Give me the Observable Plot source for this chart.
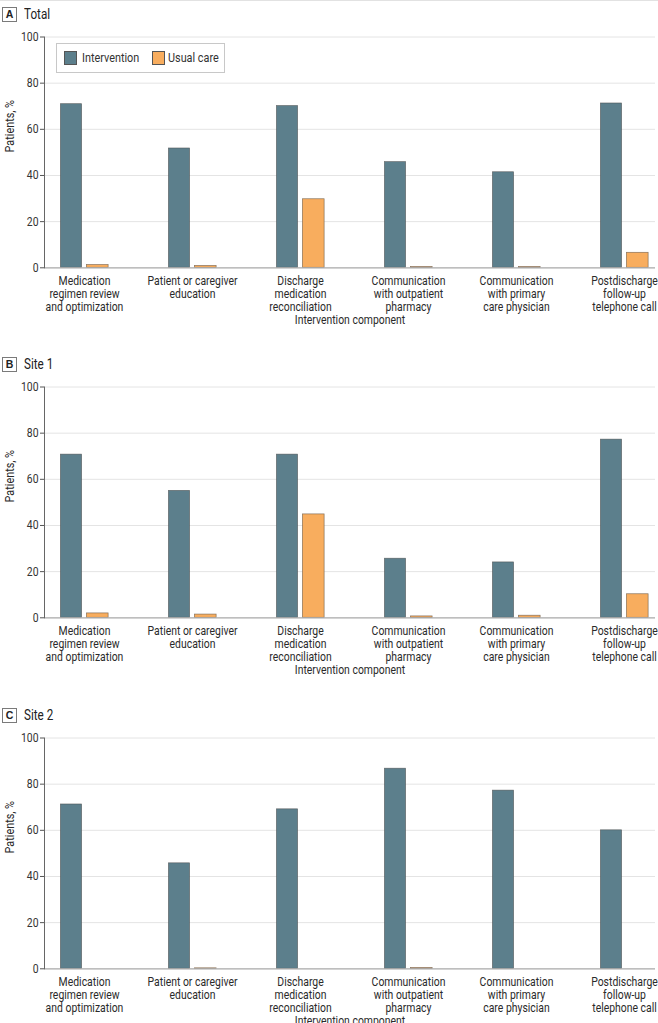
<!DOCTYPE html>
<html>
<head>
<meta charset="utf-8">
<script src="https://cdn.jsdelivr.net/npm/d3@7"></script>
<script src="https://cdn.jsdelivr.net/npm/@observablehq/plot@0.6"></script>
<style>
  html, body { margin: 0; padding: 0; background: #fff; }
  body { width: 658px; overflow: hidden; border-top: 1px solid #e2e2e2; box-sizing: border-box;
         font-family: Roboto, 'Noto Sans', sans-serif; color: #222; }
  .panel { position: relative; height: 350.4px; }
  .panel svg { position: absolute; left: 0; top: 0; }
  .hdr { position: absolute; left: 2px; top: 6px; height: 15px; z-index: 2; white-space: nowrap; }
  .box { position: absolute; left: 0; top: 0; width: 13px; height: 13px; border: 1px solid #7a7a7a; font-weight: bold;
         font-size: 10.5px; line-height: 13px; text-align: center; font-family: 'Liberation Sans', Arial, sans-serif; }
  .ttl { position: absolute; left: 22px; top: -1px; font-size: 14px; line-height: 16px; color: #222; transform-origin: 0 50%; }
  .legend { position: absolute; left: 56px; top: 42px; width: 167px; height: 28px; border: 1px solid #c8c8c8;
            background: #fff; z-index: 2; font-size: 13px; }
  .legend .sw { position: absolute; top: 7px; width: 13px; height: 14px; border: 1px solid #555; box-sizing: border-box; }
  .legend .lb { position: absolute; top: 6px; line-height: 16px; color: #333; white-space: nowrap; transform-origin: 0 50%; }
</style>
</head>
<body>
<div id="root"></div>
<script>
// ---- data ----
const categories = [
  "Medication regimen review and optimization",
  "Patient or caregiver education",
  "Discharge medication reconciliation",
  "Communication with outpatient pharmacy",
  "Communication with primary care physician",
  "Postdischarge follow-up telephone call"
];
const tickLabels = [
  "Medication\nregimen review\nand optimization",
  "Patient or caregiver\neducation",
  "Discharge\nmedication\nreconciliation",
  "Communication\nwith outpatient\npharmacy",
  "Communication\nwith primary\ncare physician",
  "Postdischarge\nfollow-up\ntelephone call"
];
const seriesNames = ["Intervention", "Usual care"];
const seriesColors = ["#5c7f8c", "#f8ad5e"];

const panelLetters = ["A", "B", "C"];
const panelTitles = ["Total", "Site 1", "Site 2"];

const totalIntervention = [70.9, 51.7, 70.1, 45.8, 41.4, 71.2];
const totalUsual        = [1.2, 0.8, 29.7, 0.3, 0.3, 6.5];
const site1Intervention = [70.7, 55.0, 70.7, 25.6, 24.0, 77.2];
const site1Usual        = [1.9, 1.4, 44.8, 0.6, 0.9, 10.2];
const site2Intervention = [71.2, 45.7, 69.1, 86.7, 77.2, 60.0];
const site2Usual        = [0, 0.2, 0, 0.3, 0, 0];

const yTicks = [0, 20, 40, 60, 80, 100];
const yLabel = "Patients, %";
const xLabel = "Intervention component";

const panelValues = [
  [totalIntervention, totalUsual],
  [site1Intervention, site1Usual],
  [site2Intervention, site2Usual]
];

// ---- styling helpers ----
const FONT = "Roboto, 'Noto Sans', sans-serif";
function measure(str, font) {
  const ctx = document.createElement("canvas").getContext("2d");
  ctx.font = font;
  return ctx.measureText(str).width;
}
// horizontal condensing factor so the text matches the narrow face of the original
const K = Math.min(1, 90 / measure("Patient or caregiver", "12.5px Roboto"));

function condense(svg) {
  svg.querySelectorAll("text").forEach(t => {
    const tr = t.getAttribute("transform");
    if (tr) {
      t.setAttribute("transform", tr + ` scale(${K},1)`);
    } else {
      const x = +(t.getAttribute("x") || 0), y = +(t.getAttribute("y") || 0);
      t.removeAttribute("x"); t.removeAttribute("y");
      t.setAttribute("transform", `translate(${x},${y}) scale(${K},1)`);
    }
  });
}

// ---- drawing ----
const W = 658, H = 350, mTop = 35.5, mBottom = 350 - 266.3, mLeft = 44, mRight = 3;
const step = 108.76, firstCenter = 82.35;
const xRange = [firstCenter - step / 2, firstCenter + step * 5.5];
const half = step / 2;

const root = document.getElementById("root");

panelValues.forEach((vals, p) => {
  const panel = document.createElement("div");
  panel.className = "panel";

  const rows = [];
  vals.forEach((arr, s) => arr.forEach((v, i) => rows.push({cat: categories[i], series: seriesNames[s], value: v})));
  const interv = rows.filter(d => d.series === seriesNames[0]);
  const usual = rows.filter(d => d.series === seriesNames[1]);

  const chart = Plot.plot({
    width: W, height: H,
    marginTop: mTop, marginBottom: mBottom, marginLeft: mLeft, marginRight: mRight,
    style: {fontFamily: FONT, fontSize: "13px", color: "#333", background: "transparent", overflow: "visible"},
    x: {type: "band", domain: categories, range: xRange, padding: 0, axis: null},
    y: {domain: [0, 100], axis: null},
    color: {domain: seriesNames, range: seriesColors},
    marks: [
      Plot.gridY(yTicks.filter(t => t > 0), {stroke: "#e4e4e4", strokeOpacity: 1, strokeWidth: 1}),
      Plot.barY(interv, {x: "cat", y: "value", fill: "series", stroke: "#4a4a4a", strokeWidth: 0.7, strokeOpacity: 0.7,
        insetLeft: half - 24, insetRight: half + 2}),
      Plot.barY(usual, {x: "cat", y: "value", fill: "series", stroke: "#6b5a48", strokeWidth: 0.7, strokeOpacity: 0.8,
        insetLeft: half + 2, insetRight: half - 24.5}),
      Plot.ruleY([0], {stroke: "#a8a8a8", strokeWidth: 1.2}),
      Plot.frame({anchor: "left", stroke: "#666", strokeWidth: 1}),
      Plot.axisY({ticks: yTicks, tickSize: 4, tickPadding: 2, label: null, fontSize: 12.5, stroke: "#555", color: "#333"}),
      Plot.text(categories, {x: d => d, text: (d, i) => tickLabels[i], frameAnchor: "bottom", dy: 8,
        lineAnchor: "top", lineHeight: 13 / 12.5, fontSize: 12.5, fill: "#2a2a2a"}),
      Plot.text([xLabel], {frameAnchor: "bottom", dy: 56, fontSize: 12.5, fill: "#2a2a2a"}),
      Plot.text([yLabel], {frameAnchor: "left", rotate: -90, dx: -34.5, fontSize: 13, fill: "#2a2a2a"})
    ]
  });
  condense(chart);
  panel.appendChild(chart);

  const hdr = document.createElement("div");
  hdr.className = "hdr";
  hdr.innerHTML = `<span class="box">${panelLetters[p]}</span><span class="ttl" style="transform:scaleX(${K})">${panelTitles[p]}</span>`;
  panel.appendChild(hdr);

  if (p === 0) {
    const lg = document.createElement("div");
    lg.className = "legend";
    lg.innerHTML =
      `<span class="sw" style="left:7px;background:${seriesColors[0]}"></span><span class="lb" style="left:25px;transform:scaleX(${K})">${seriesNames[0]}</span>` +
      `<span class="sw" style="left:95px;background:${seriesColors[1]}"></span><span class="lb" style="left:111px;transform:scaleX(${K})">${seriesNames[1]}</span>`;
    panel.appendChild(lg);
  }
  root.appendChild(panel);
});
</script>
</body>
</html>
